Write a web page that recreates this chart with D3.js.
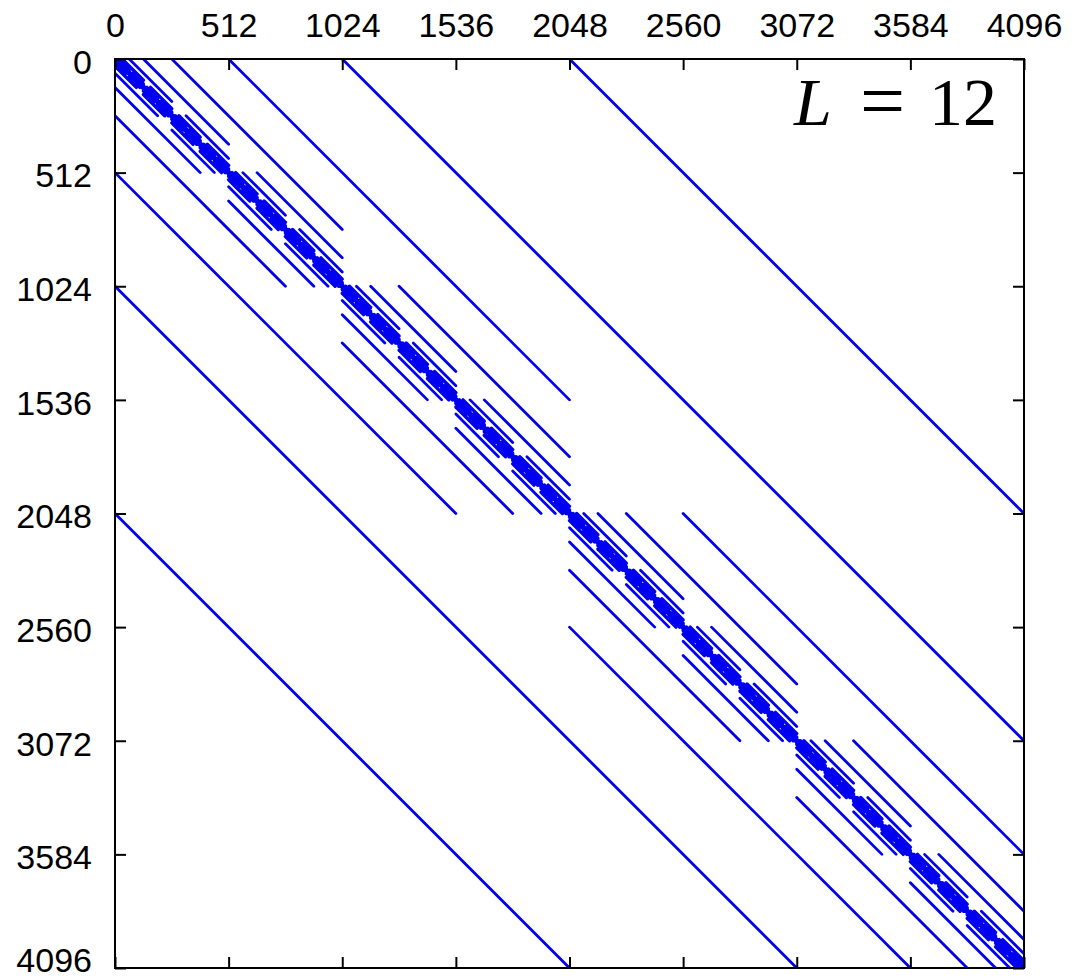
<!DOCTYPE html>
<html>
<head>
<meta charset="utf-8">
<script src="https://cdn.jsdelivr.net/npm/d3@7"></script>
<style>
  html, body { margin: 0; padding: 0; background: #fff; }
  svg { display: block; }
  .tick text { font-family: "Liberation Sans", Arial, sans-serif; font-size: 34px; fill: #000; }
</style>
</head>
<body>
<svg id="chart" width="1088" height="979"></svg>
<script>
// matrix size and tick labels
const size = 4096;
const tickValues = [0, 512, 1024, 1536, 2048, 2560, 3072, 3584, 4096];

// each diagonal (upper side, mirrored below): offset, repeat period, filled run per period
const offsets = [0, 1, 2, 4, 8, 16, 32, 64, 128, 256, 512, 1024, 2048];
const periods = [4096, 4, 8, 16, 32, 64, 128, 256, 512, 1024, 2048, 4096, 4096];
const runs    = [4096, 3, 6, 12, 24, 48, 96, 192, 384, 768, 1536, 3072, 2048];

const label = "L = 12";

const svg = d3.select("#chart");
const mLeft = 115, mTop = 59, mRight = 1024, mBottom = 968;

const x = d3.scaleLinear().domain([0, size]).range([mLeft, mRight]);
const y = d3.scaleLinear().domain([0, size]).range([mTop, mBottom]);

// build segments
let segs = [];
offsets.forEach((off, i) => {
  for (let b = 0; b + off < size; b += periods[i]) {
    let len = Math.min(runs[i], size - off - b);
    if (len <= 0) continue;
    segs.push({off: off, x1: b + off, y1: b, x2: b + off + len, y2: b + len});
    if (off > 0) segs.push({off: off, x1: b, y1: b + off, x2: b + len, y2: b + off + len});
  }
});

svg.append("defs").append("clipPath").attr("id", "clip")
  .append("rect")
  .attr("x", mLeft).attr("y", mTop)
  .attr("width", mRight - mLeft).attr("height", mBottom - mTop);

svg.append("g")
  .attr("clip-path", "url(#clip)")
  .selectAll("line")
  .data(segs)
  .join("line")
  .attr("x1", d => x(d.x1))
  .attr("y1", d => y(d.y1))
  .attr("x2", d => x(d.x2))
  .attr("y2", d => y(d.y2))
  .attr("stroke", "#0000f0")
  .attr("stroke-width", d => d.off <= 32 ? 3.4 : 2.8)
  .attr("stroke-linecap", "round");

const fmt = d3.format("d");

// axes, ticks pointing inward
svg.append("g").attr("transform", `translate(0,${mTop})`)
  .call(d3.axisTop(x).tickValues(tickValues).tickFormat(fmt).tickSize(-11).tickPadding(22));
let leftAxis = svg.append("g").attr("transform", `translate(${mLeft},0)`)
  .call(d3.axisLeft(y).tickValues(tickValues).tickFormat(fmt).tickSize(-11).tickPadding(23));
leftAxis.selectAll(".tick text").attr("dy", d => d === size ? "0.09em" : "0.42em");
svg.append("g").attr("transform", `translate(${mRight},0)`)
  .call(d3.axisRight(y).tickValues(tickValues).tickSize(-11).tickFormat(""));
svg.append("g").attr("transform", `translate(0,${mBottom})`)
  .call(d3.axisBottom(x).tickValues(tickValues).tickSize(-11).tickFormat(""));

svg.selectAll(".domain").remove();
svg.selectAll(".tick line").attr("stroke", "#000").attr("stroke-width", 2);

svg.append("rect")
  .attr("x", mLeft).attr("y", mTop)
  .attr("width", mRight - mLeft).attr("height", mBottom - mTop)
  .attr("fill", "none")
  .attr("stroke", "#000")
  .attr("stroke-width", 2);

// label in the top right corner
let parts = label.split(" ");
let t = svg.append("text")
  .attr("y", 125)
  .attr("font-family", "'Liberation Serif', 'Times New Roman', serif")
  .attr("font-size", 68)
  .attr("fill", "#000");
t.append("tspan").attr("x", 794).attr("font-style", "italic").text(parts[0]);
t.append("tspan").attr("x", 860).attr("font-size", 80).attr("dy", 3).text(parts[1]);
t.append("tspan").attr("x", 929).attr("dy", -3).text(parts[2]);
</script>
</body>
</html>
